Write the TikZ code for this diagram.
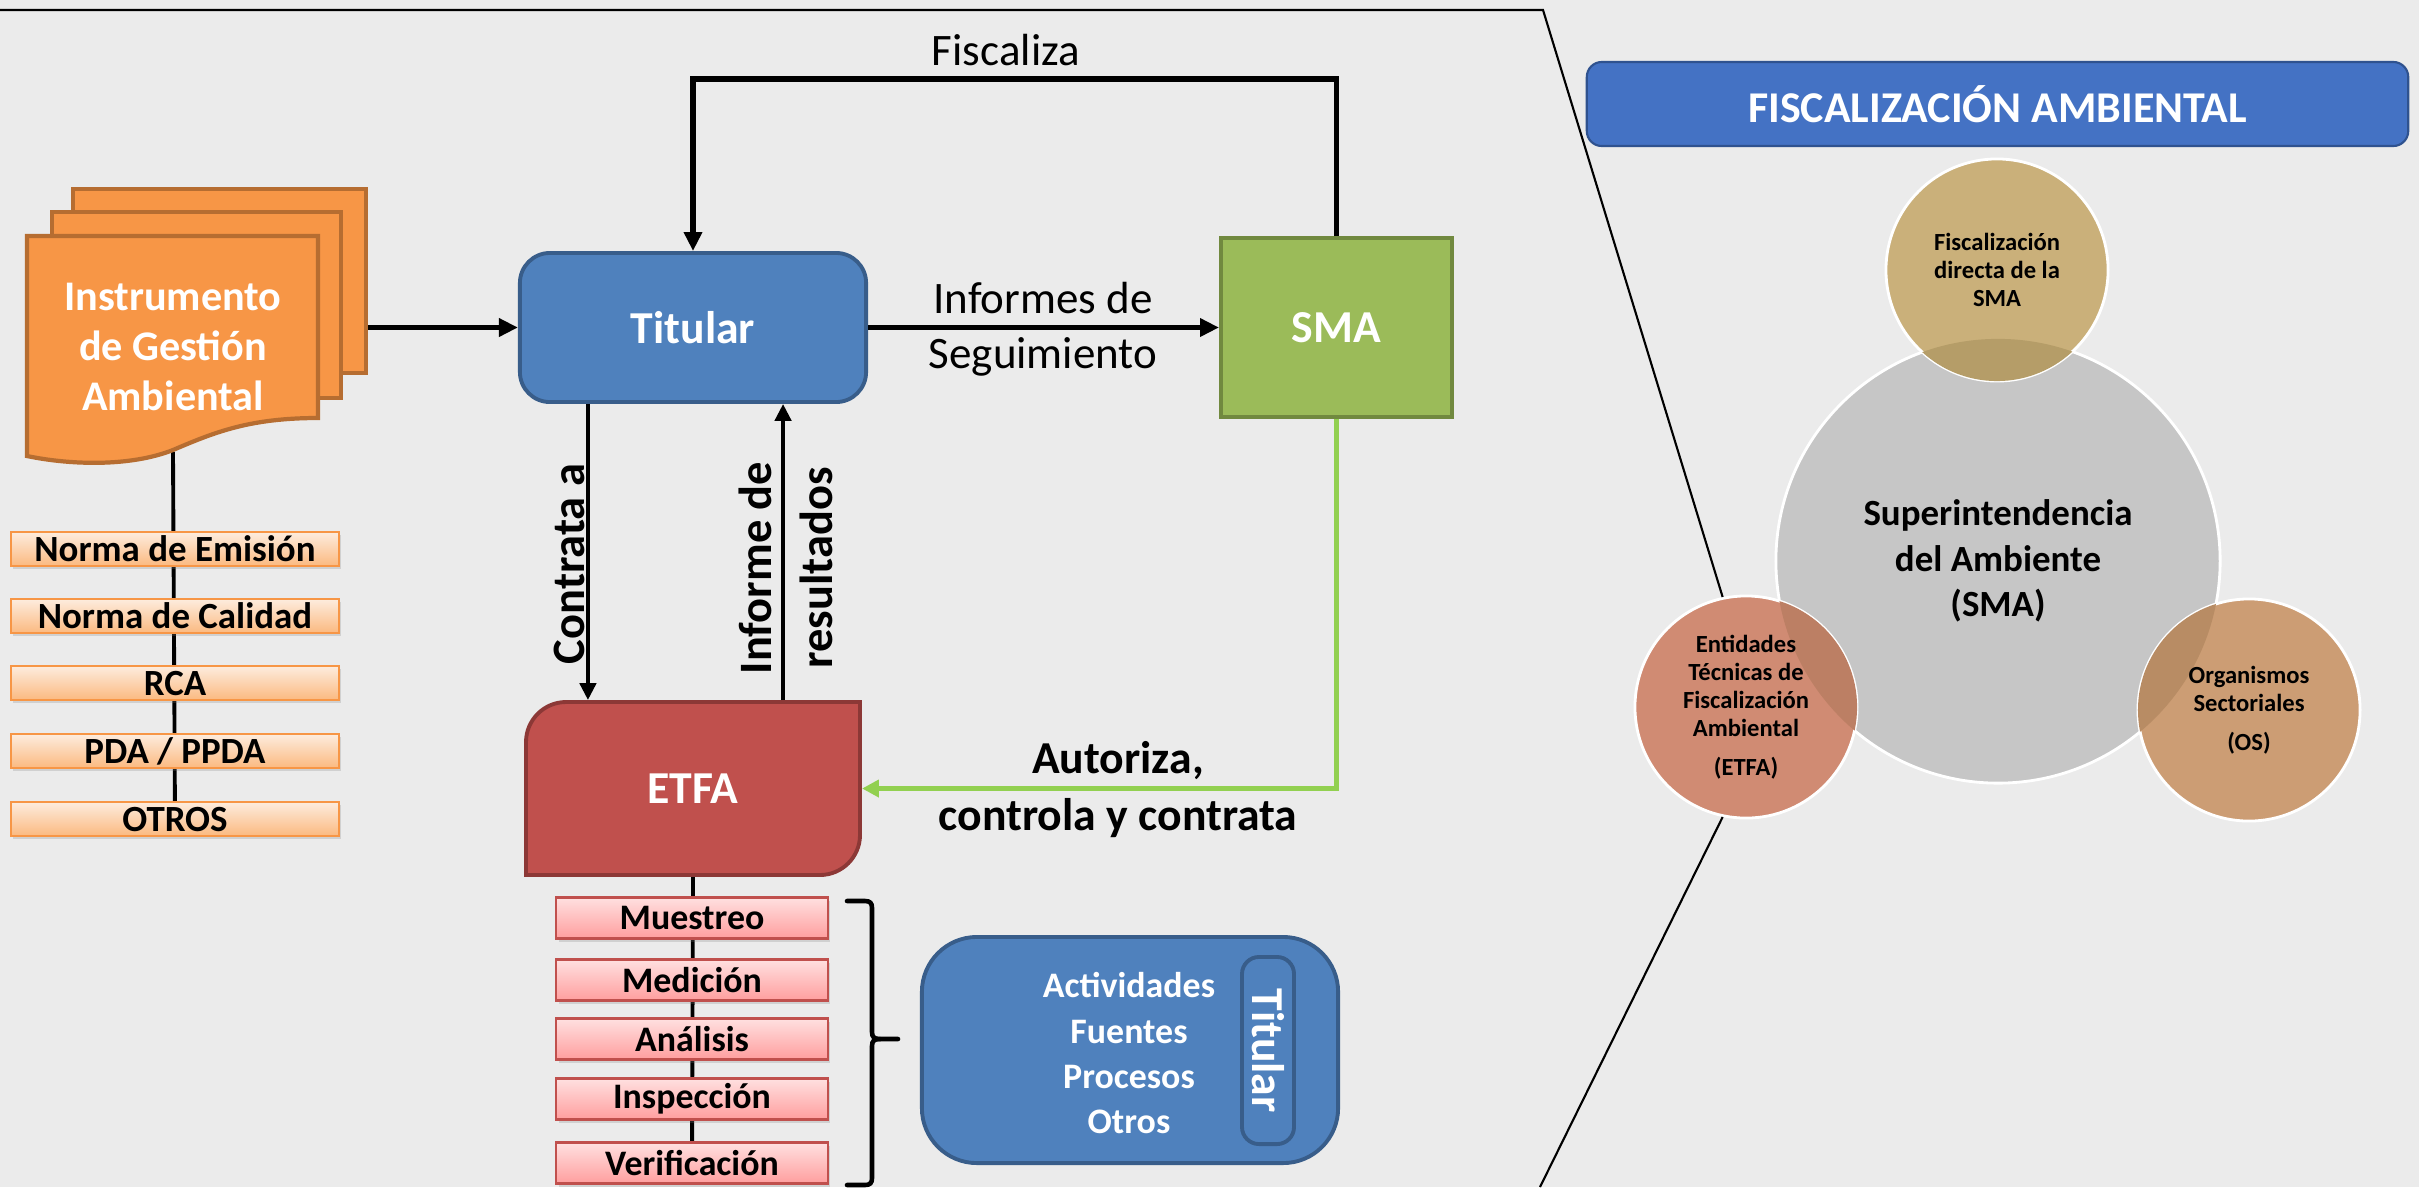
\documentclass[tikz,border=0pt]{standalone}
\usepackage{fontspec}
\setmainfont{Carlito}
\usepackage{xcolor}
\usetikzlibrary{
	arrows.meta,
	backgrounds,
	shadows,
	shapes,
}
\definecolor{fondo}{RGB}{235,235,235}
\definecolor{titular}{RGB}{79,129,189}
\definecolor{titularborde}{RGB}{56,93,138}
\definecolor{sma}{RGB}{155,187,89}
\definecolor{smaborde}{RGB}{113,137,63}
\definecolor{etfa}{RGB}{192,80,77}
\definecolor{etfaborde}{RGB}{140,56,54}
\definecolor{instrumento}{RGB}{247,150,70}
\definecolor{instrumentoborde}{RGB}{182,109,49}
\definecolor{verde}{RGB}{146,208,80}
\definecolor{banner}{RGB}{68,114,196}
\definecolor{bannerborde}{RGB}{47,82,143}
\definecolor{circgris}{RGB}{198,198,198}
\definecolor{circsup}{RGB}{202,176,122}
\definecolor{circsupos}{RGB}{181,157,104}
\definecolor{circizq}{RGB}{208,139,115}
\definecolor{circizqos}{RGB}{188,127,100}
\definecolor{circder}{RGB}{204,157,116}
\definecolor{circderos}{RGB}{184,140,100}
\definecolor{normaarriba}{RGB}{253,236,222}
\definecolor{normaabajo}{RGB}{251,185,128}
\definecolor{etapaarriba}{RGB}{255,224,224}
\definecolor{etapaabajo}{RGB}{255,158,158}

\tikzset{
	caja/.style={draw, line width=1.1pt, text=white, inner sep=0pt,
		font=\bfseries\fontsize{13}{15}\selectfont},
	norma/.style={draw=instrumento, line width=0.6pt, top color=normaarriba,
		bottom color=normaabajo, minimum width=3.28cm, minimum height=0.34cm,
		inner sep=0pt, font=\bfseries\fontsize{10.5}{12}\selectfont,
		drop shadow={shadow xshift=0.6pt, shadow yshift=-0.9pt, opacity=0.25}},
	etapa/.style={norma, draw=etfa, top color=etapaarriba, bottom color=etapaabajo,
		minimum width=2.71cm, minimum height=0.41cm,
		font=\bfseries\fontsize{10.2}{12}\selectfont},
	hoja/.style={draw=instrumentoborde, fill=instrumento, line width=1.2pt},
	flecha/.style={line width=1.1pt, -{Triangle[length=4.8pt, width=4.6pt]}},
	flechagruesa/.style={line width=1.5pt, -{Triangle[length=5.4pt, width=5pt]}},
	linea/.style={line width=1.1pt},
	marco/.style={line width=0.6pt},
	llave/.style={line width=1.3pt, line cap=round},
	circulo/.style={circle, draw=white, line width=0.8pt, inner sep=0pt, minimum size=2.22cm},
	circtexto/.style={align=center, font=\bfseries\fontsize{7}{8}\selectfont},
}

\begin{document}
\begin{tikzpicture}[x=0.01cm, y=-0.01cm]
\useasboundingbox (0,0) rectangle (2419,1187);

% marco exterior
\coordinate (inicio) at (0,10);
\coordinate (esquina) at (1543,10);
\coordinate (fin) at (1540,1187);

% documentos
\node[hoja, minimum width=2.93cm, minimum height=1.84cm] (doctras) at (219.5,281) {};
\node[hoja, minimum width=2.89cm, minimum height=1.86cm] (docmedio) at (196.5,305) {};
\draw[hoja] (27,236) -- (318,236) -- (318,418) .. controls (250,418) and (215,432) .. (173,450)
	.. controls (130,467) and (70,465) .. (27,456) -- cycle;
\node[text=white, align=center, font=\bfseries\fontsize{12}{14.2}\selectfont] (docfrente) at (173,347)
	{Instrumento\\de Gestión\\Ambiental};
\coordinate (docbase) at (173,452);

% normas
\node[norma] (emision) at (175,549) {Norma de Emisión};
\node[norma] (calidad) at (175,616) {Norma de Calidad};
\node[norma] (rca) at (175,683) {RCA};
\node[norma] (pda) at (175,751) {PDA / PPDA};
\node[norma] (otros) at (175,819) {OTROS};

% titular, sma
\node[caja, draw=titularborde, fill=titular, rounded corners=0.3cm,
	minimum width=3.46cm, minimum height=1.49cm] (titular) at (693,327.5) {Titular};
\node[caja, draw=smaborde, fill=sma, minimum width=2.31cm, minimum height=1.79cm] (sma) at (1336.5,327.5) {SMA};

% etfa
\fill[etfa, draw=etfaborde, line width=1.1pt] (526,875) -- (526,742) .. controls (526,720) and (544,702) .. (566,702)
	-- (860,702) -- (860,835) .. controls (860,857) and (842,875) .. (820,875) -- cycle;
\node[caja, draw=none, minimum width=3.34cm, minimum height=1.73cm] (etfa) at (693,788.5) {ETFA};

% etapas
\node[etapa] (muestreo) at (692,918) {Muestreo};
\node[etapa] (medicion) at (692,980) {Medición};
\node[etapa] (analisis) at (692,1039) {Análisis};
\node[etapa] (inspeccion) at (692,1099) {Inspección};
\node[etapa] (verificacion) at (692,1163) {Verificación};

% llave
\draw[llave] (847,901) -- (865,901) .. controls (870,901) and (872,903) .. (872,908) -- (872,1032)
	.. controls (872,1037) and (874,1039) .. (880,1039) -- (898,1039);
\draw[llave] (847,1185) -- (865,1185) .. controls (870,1185) and (872,1183) .. (872,1178) -- (872,1046)
	.. controls (872,1041) and (874,1039) .. (880,1039);

% titular (objetos)
\node[draw=titularborde, fill=titular, line width=1.1pt, rounded corners=0.55cm,
	minimum width=4.16cm, minimum height=2.26cm] (objetos) at (1130,1050) {};
\node[text=white, align=center, font=\bfseries\fontsize{10.2}{12.8}\selectfont] (lista) at (1129,1053)
	{Actividades\\Fuentes\\Procesos\\Otros};
\node[draw=titularborde, fill=titular, line width=1.1pt, rounded corners=0.17cm, rotate=-90,
	minimum width=1.87cm, minimum height=0.52cm, inner sep=0pt, text=white,
	font=\bfseries\fontsize{13}{15}\selectfont] (titularv) at (1268,1050.5) {Titular};

% conectores
\draw[flechagruesa] (doctras.east |- titular.west) -- (titular.west);
\draw[flechagruesa] (titular.east) -- (sma.west);
\coordinate (techo) at (1000,79);
\draw[flechagruesa] (sma.north) |- (techo) -| (titular.north);
\draw[flecha] ([xshift=-1.05cm]titular.south) -- ([xshift=-1.05cm]etfa.north);
\draw[flecha] ([xshift=0.9cm]etfa.north) -- ([xshift=0.9cm]titular.south);
\draw[verde, line width=1.3pt, -{Triangle[length=4.8pt, width=4.8pt]}] (sma.south) |- (etfa.east);

% etiquetas
\node[font=\fontsize{12.8}{15}\selectfont] (fiscaliza) at (1006,50) {Fiscaliza};
\node[align=center, font=\fontsize{12.8}{15.6}\selectfont] (informes) at (1043,329) {Informes de\\Seguimiento};
\node[align=center, font=\bfseries\fontsize{13}{16.2}\selectfont] (autoriza) at (1118,790) {Autoriza,\\controla y contrata};
\node[rotate=90, font=\bfseries\fontsize{13.2}{15}\selectfont] (contrata) at (569,564) {Contrata a};
\node[rotate=90, align=center, font=\bfseries\fontsize{13.2}{17.4}\selectfont] (informe) at (786,568) {Informe de\\resultados};

% fiscalizacion ambiental
\node[draw=bannerborde, fill=banner, rounded corners=0.15cm, line width=0.6pt,
	minimum width=8.21cm, minimum height=0.84cm, text=white,
	font=\bfseries\fontsize{12.5}{15}\selectfont] (titulo) at (1997.5,104) {FISCALIZACIÓN AMBIENTAL};

\node[circulo, fill=circgris, minimum size=4.44cm, align=center,
	font=\bfseries\fontsize{10.5}{13}\selectfont] (circsma) at (1998,561) {Superintendencia\\del Ambiente\\(SMA)};
\node[circulo, fill=circsup] (circfisc) at (1997,270) {};
\node[circulo, fill=circizq] (circetfa) at (1746,707) {};
\node[circulo, fill=circder] (circos) at (2249,710) {};
\begin{scope}
	\clip (circsma.center) circle (2.22cm);
	\fill[circsupos] (circfisc.center) circle (1.11cm);
	\fill[circizqos] (circetfa.center) circle (1.11cm);
	\fill[circderos] (circos.center) circle (1.11cm);
\end{scope}
\node[circtexto] (textofisc) at (circfisc) {Fiscalización\\directa de la\\SMA};
\node[circtexto] (textoetfa) at (circetfa) {Entidades\\Técnicas de\\Fiscalización\\Ambiental\\[3pt](ETFA)};
\node[circtexto] (textoos) at (circos) {Organismos\\Sectoriales\\[3pt](OS)};

\draw[marco] (inicio) -- (esquina) -- (circetfa.102);
\draw[marco] (circetfa.258) -- (fin);

% fondo y lineas de las listas
\begin{scope}[on background layer]
	\fill[fondo] (0,0) rectangle (2419,1187);
	\draw[linea] (docbase) -- (otros.center);
	\draw[linea] (etfa.south) -- (verificacion.center);
\end{scope}
\end{tikzpicture}
\end{document}
